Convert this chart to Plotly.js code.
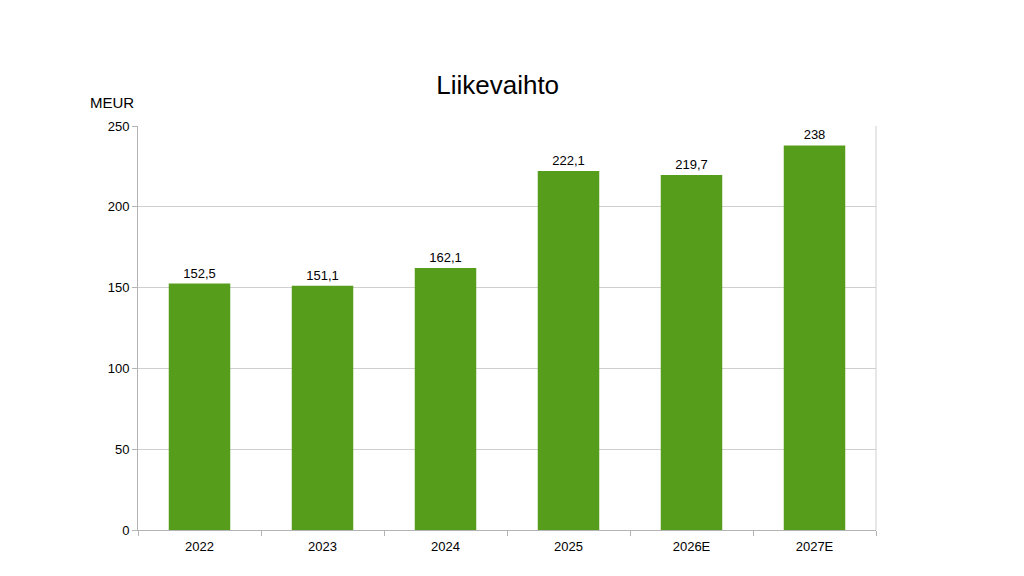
<!DOCTYPE html>
<html>
<head>
<meta charset="utf-8">
<script src="https://cdn.plot.ly/plotly-3.0.1.min.js"></script>
<style>
  html, body { margin: 0; padding: 0; background: #fff; }
  #chart { width: 1024px; height: 576px; }
</style>
</head>
<body>
<div id="chart"></div>
<script>
const years = ['2022', '2023', '2024', '2025', '2026E', '2027E'];
const revenue = [152.5, 151.1, 162.1, 222.1, 219.7, 238];
const valueLabels = ['152,5', '151,1', '162,1', '222,1', '219,7', '238'];

const trace = {
  x: years,
  y: revenue,
  type: 'bar',
  width: 0.5,
  marker: { color: '#579d1c' },
  text: valueLabels,
  textposition: 'outside',
  textfont: { family: 'Liberation Sans, Arial, sans-serif', size: 13, color: '#000' },
  cliponaxis: false,
  hoverinfo: 'x+y'
};

const layout = {
  width: 1024,
  height: 576,
  margin: { l: 138, r: 148, t: 126, b: 46 },
  paper_bgcolor: '#fff',
  plot_bgcolor: '#fff',
  font: { family: 'Liberation Sans, Arial, sans-serif', color: '#000' },
  showlegend: false,
  title: {
    text: 'Liikevaihto',
    font: { size: 26, color: '#000' },
    x: 0.486, xanchor: 'center',
    y: 0.852, yanchor: 'middle'
  },
  xaxis: {
    type: 'category',
    showline: true,
    linecolor: '#b3b3b3',
    ticks: 'outside',
    tickson: 'boundaries',
    ticklen: 5,
    tickcolor: '#b3b3b3',
    ticklabelstandoff: 4,
    tickfont: { size: 13, color: '#000' },
    showgrid: false,
    mirror: false
  },
  yaxis: {
    range: [0, 250],
    tickvals: [0, 50, 100, 150, 200, 250],
    showline: true,
    linecolor: '#b3b3b3',
    ticks: 'outside',
    ticklen: 5,
    tickcolor: '#b3b3b3',
    tickfont: { size: 13, color: '#000' },
    gridcolor: '#cfcfcf',
    zeroline: false
  },
  shapes: [
    { type: 'line', xref: 'paper', yref: 'paper', x0: 1, x1: 1, y0: 0, y1: 1,
      line: { color: '#cfcfcf', width: 1 } }
  ],
  annotations: [
    { text: 'MEUR', xref: 'paper', yref: 'paper', x: -0.068, y: 1.058,
      xanchor: 'left', yanchor: 'middle', showarrow: false,
      font: { size: 15, color: '#000' } }
  ]
};

Plotly.newPlot('chart', [trace], layout, { displayModeBar: false, staticPlot: true });
</script>
</body>
</html>
